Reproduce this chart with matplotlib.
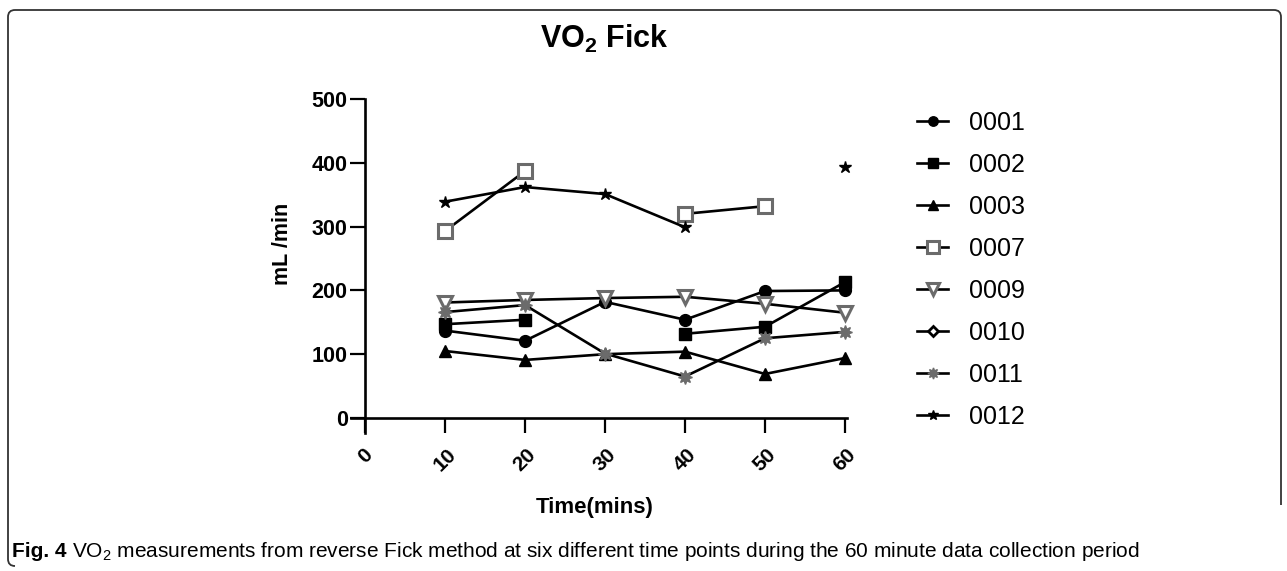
import numpy as np
import matplotlib
matplotlib.use("Agg")
import matplotlib.pyplot as plt
from matplotlib.path import Path
from matplotlib.patches import PathPatch

# VO2 (mL/min) per subject at each time point; nan = no measurement
TIMES = [10, 20, 30, 40, 50, 60]
S0001 = [137, 121, 182, 154, 199, 200]
S0002 = [147, 154, np.nan, 132, 143, 213]
S0003 = [105, 91, 100, 104, 69, 94]
S0007 = [293, 387, np.nan, 320, 332, np.nan]
S0009 = [181, 185, 188, 190, 179, 165]
S0010 = [np.nan] * 6
S0011 = [166, 177, 101, 65, 125, 135]
S0012 = [339, 362, 351, 299, np.nan, 393]
LABELS = ["0001", "0002", "0003", "0007", "0009", "0010", "0011", "0012"]
XTICKS = [0, 10, 20, 30, 40, 50, 60]
YTICKS = [0, 100, 200, 300, 400, 500]

W, H = 1287, 571
GRAY = "#6b6b6b"
plt.rcParams["font.family"] = ["Liberation Sans", "DejaVu Sans"]
plt.rcParams["mathtext.default"] = "regular"

fig = plt.figure(figsize=(W / 100, H / 100), dpi=100)
ax = fig.add_axes([351.4 / W, 1 - 433.3 / H, 496 / W, 334.3 / H])

series = [S0001, S0002, S0003, S0007, S0009, S0010, S0011, S0012]
styles = [
    dict(marker="o", ms=8.5, mfc="black", mec="black"),
    dict(marker="s", ms=8.5, mfc="black", mec="black"),
    dict(marker="^", ms=9, mfc="black", mec="black"),
    dict(marker="s", ms=10, mfc="white", mec=GRAY, mew=2.2),
    dict(marker="v", ms=10.5, mfc="white", mec=GRAY, mew=2.2),
    dict(marker="D", ms=7, mfc="white", mec="black", mew=2),
    dict(marker=(8, 1, 0), ms=10, mfc=GRAY, mec=GRAY),
    dict(marker="*", ms=9, mfc="black", mec="black"),
]
for vals, lab, st in zip(series, LABELS, styles):
    ax.plot(TIMES, vals, color="black", lw=1.9, label=lab, clip_on=False, **st)

ax.set_xlim(-1.7, 60.3)
ax.set_ylim(-24, 500)
for s in ["top", "right"]:
    ax.spines[s].set_visible(False)
ax.spines["left"].set_position(("data", 0))
ax.spines["bottom"].set_position(("data", 0))
for s in ["left", "bottom"]:
    ax.spines[s].set_linewidth(1.9)

ax.set_xticks(XTICKS)
ax.set_xticklabels([str(t) for t in XTICKS], rotation=45, ha="center",
                   fontsize=15, fontweight="bold")
ax.set_yticks(YTICKS)
ax.set_yticklabels([str(t) for t in YTICKS], fontsize=15.5, fontweight="bold")
ax.tick_params(axis="both", direction="out", length=10.5, width=1.6)
ax.tick_params(axis="x", pad=9)
ax.tick_params(axis="y", pad=2)

ax.set_ylabel("mL /min", fontsize=15.5, fontweight="bold")
ax.yaxis.set_label_coords(-0.118, 0.566)
ax.set_xlabel("Time(mins)", fontsize=16, fontweight="bold")
ax.xaxis.set_label_coords(0.49, -0.19)

fig.text(604 / W, 1 - 39 / H, "VO$_2$ Fick", fontsize=22, fontweight="bold",
         ha="center", va="center")

fig.legend(loc="upper left", bbox_to_anchor=(917 / W, 1 - 111 / H),
           frameon=False, fontsize=18, handlelength=1.25, handletextpad=0.85,
           labelspacing=0.72, borderpad=0, borderaxespad=0, markerscale=0.8,
           numpoints=1)

# rounded frame around the figure panel (open at the bottom right)
def px(x, y):
    return (x / W, 1 - y / H)

r = 7
verts = [px(1281, 505), px(1281, 10 + r), px(1281, 10), px(1281 - r, 10),
         px(8 + r, 10), px(8, 10), px(8, 10 + r),
         px(8, 566 - r), px(8, 566), px(8 + r, 566)]
codes = [Path.MOVETO, Path.LINETO, Path.CURVE3, Path.CURVE3,
         Path.LINETO, Path.CURVE3, Path.CURVE3,
         Path.LINETO, Path.CURVE3, Path.CURVE3]
fig.patches.append(PathPatch(Path(verts, codes), transform=fig.transFigure,
                             fill=False, lw=1.3, ec="#333333"))

# caption
cap_font = ["Liberation Sans", "DejaVu Sans"]
t1 = fig.text(12 / W, 1 - 557 / H, "Fig. 4", fontsize=15, fontweight="bold",
              family=cap_font, va="baseline")
rend = fig.canvas.get_renderer()
bb = t1.get_window_extent(rend)
fig.text((bb.x1 + 5) / W, 1 - 557 / H,
         "VO$_2$ measurements from reverse Fick method at six different time "
         "points during the 60 minute data collection period",
         fontsize=15, family=cap_font, va="baseline")

fig.savefig("out.png", dpi=100)
